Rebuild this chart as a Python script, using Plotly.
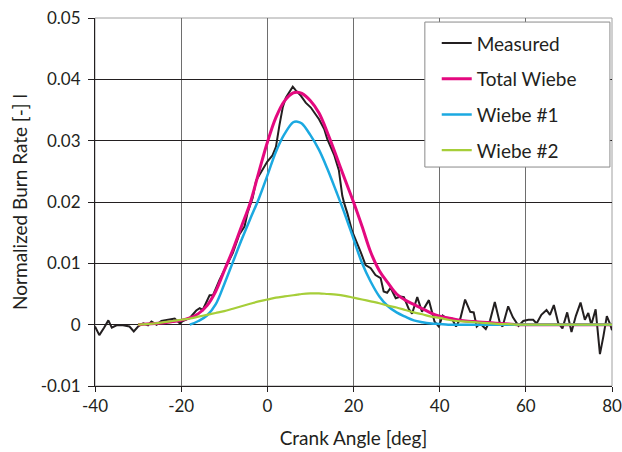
import plotly.graph_objects as go

# ---- data ----
meas_x = [-40, -39, -37.9, -36.9, -36.1, -35, -33.5, -32, -31, -30, -28.8, -27.7, -26.9, -25.7, -24.6,
          -22.7, -21.5, -20.3, -19.6, -18, -16.5, -15.7, -15, -13.4, -12.6, -11.1, -9.5, -8, -6.5, -5.3,
          -4.6, -3.4, -2.6, -1.2, 0, 1.2, 2, 2.8, 3.6, 4.3, 5.9, 6.6, 7.8, 8.9, 10.1, 10.9, 12, 13.2,
          13.9, 14.7, 15.5, 16.6, 17.4, 17.8, 18.6, 19.7, 20.5, 21.7, 22.8, 24, 25.1, 26.3, 27, 27.8,
          28.6, 29.8, 30.9, 31.7, 32.8, 33.6, 34.8, 35.9, 37.5, 38.8, 39.8, 40.7, 41.7, 42.8, 43.8,
          44.8, 45.9, 47.1, 47.9, 48.6, 49.4, 50.7, 51.7, 52.8, 54, 54.6, 55.9, 57, 58.3, 59.4, 60.6,
          61.7, 62.5, 63.6, 64.8, 65.6, 66.5, 67.5, 68.5, 69.6, 70.6, 71.6, 72.7, 73.7, 74.5, 75.2,
          76.2, 77.2, 78, 78.8, 79.6, 80]
meas_y = [-0.0003, -0.0017, -0.0005, 0.0007, -0.0005, -0.0001, -0.0001, -0.0003, -0.0011, -0.0003,
          0.0002, -0.0001, 0.0005, 0.0, 0.0006, 0.0008, 0.0010, 0.0002, 0.0006, 0.0011, 0.0023, 0.0027,
          0.0024, 0.0048, 0.0048, 0.0073, 0.0095, 0.0117, 0.0147, 0.0160, 0.0182, 0.0207, 0.0235,
          0.0252, 0.0266, 0.0276, 0.0290, 0.0325, 0.0355, 0.0370, 0.0388, 0.0382, 0.0373, 0.0362,
          0.0354, 0.0346, 0.0335, 0.0319, 0.0303, 0.0290, 0.0277, 0.0252, 0.0210, 0.0199, 0.0181,
          0.0152, 0.0139, 0.0118, 0.0097, 0.0092, 0.0081, 0.0076, 0.0054, 0.0052, 0.0060, 0.0043,
          0.0046, 0.0045, 0.0026, 0.0018, 0.0045, 0.0021, 0.0040, 0.0005, -0.0003, 0.0015, 0.0010,
          0.0010, -0.0003, 0.0010, 0.0041, 0.0021, 0.0020, -0.0003, 0.0002, -0.0007, 0.0007, 0.0037,
          0.0002, -0.0003, 0.0030, 0.0012, -0.0002, 0.0006, 0.0008, 0.0008, 0.0002, 0.0016, 0.0024,
          0.0016, 0.0032, 0.0003, -0.0006, 0.0020, -0.0012, 0.0014, 0.0036, 0.0008, 0.0019, 0.0,
          0.0025, -0.0048, -0.0019, 0.0014, 0.0, -0.0009]

wiebe_x = [-30, -28, -26, -24, -22, -20, -18, -16, -14, -12, -10, -8, -6, -4, -2, 0, 2, 4, 6, 7, 8,
           10, 12, 14, 16, 18, 20, 22, 24, 26, 28, 30, 32, 34, 36, 38, 40, 42, 44, 46, 48, 50, 52,
           54, 56, 58, 60, 65, 70, 75, 80]
total_y = [0.0, 0.0001, 0.0002, 0.0003, 0.0005, 0.0007, 0.0011, 0.0018, 0.0031, 0.0054, 0.0088,
           0.0122, 0.0160, 0.0198, 0.0248, 0.0297, 0.0338, 0.0365, 0.0378, 0.0379, 0.0377, 0.0365,
           0.0345, 0.0312, 0.0275, 0.0237, 0.0200, 0.0160, 0.0118, 0.0088, 0.0068, 0.0050, 0.0040,
           0.0033, 0.0026, 0.0019, 0.0014, 0.0011, 0.0008, 0.0006, 0.0005, 0.0004, 0.0003, 0.0002,
           0.0001, 0.0, 0.0, 0.0, 0.0, 0.0, 0.0]
w1_y = [None, None, None, None, None, None, 0.0, 0.0006, 0.0015, 0.0033, 0.0066, 0.0102, 0.0138,
        0.0172, 0.0205, 0.0243, 0.0282, 0.0311, 0.0330, 0.0331, 0.0328, 0.0309, 0.0285, 0.0253,
        0.0217, 0.0180, 0.0140, 0.0100, 0.0070, 0.0046, 0.0030, 0.0020, 0.0013, 0.0007, 0.0004,
        0.0002, 0.0001, 0.0, 0.0, 0.0, 0.0, 0.0, 0.0, 0.0, 0.0, 0.0, 0.0, 0.0, 0.0, 0.0, 0.0]
w2_y = [0.0, 0.0001, 0.0002, 0.0004, 0.0006, 0.0008, 0.0010, 0.0013, 0.0016, 0.0019, 0.0022, 0.0026,
        0.0030, 0.0034, 0.0038, 0.0041, 0.0044, 0.0046, 0.0048, 0.0049, 0.0050, 0.0051, 0.0051,
        0.0050, 0.0049, 0.0047, 0.0044, 0.0041, 0.0038, 0.0035, 0.0031, 0.0028, 0.0024, 0.0020,
        0.0017, 0.0013, 0.0011, 0.0008, 0.0006, 0.0005, 0.0004, 0.0003, 0.0002, 0.0001, 0.0001,
        0.0, 0.0, 0.0, 0.0, 0.0, 0.0]

x_ticks = [-40, -20, 0, 20, 40, 60, 80]
x_ticktext = ["-40", "-20", "0", "20", "40", "60", "80"]
y_ticks = [-0.01, 0, 0.01, 0.02, 0.03, 0.04, 0.05]
y_ticktext = ["-0.01", "0", "0.01", "0.02", "0.03", "0.04", "0.05"]

FONT = "Lato"
TXT = "#231f20"

fig = go.Figure()
fig.add_trace(go.Scatter(x=meas_x, y=meas_y, mode="lines", name="Measured", legendgroup="a",
                         line=dict(color="#231f20", width=2)))
fig.add_trace(go.Scatter(x=wiebe_x, y=total_y, mode="lines", name="Total Wiebe", legendgroup="b",
                         line=dict(color="#e4097f", width=3, shape="spline")))
fig.add_trace(go.Scatter(x=wiebe_x, y=w1_y, mode="lines", name="Wiebe #1", legendgroup="c",
                         line=dict(color="#1ba9e1", width=2.5, shape="spline")))
fig.add_trace(go.Scatter(x=wiebe_x, y=w2_y, mode="lines", name="Wiebe #2", legendgroup="d",
                         line=dict(color="#a6ce39", width=2.2, shape="spline")))

# plot frame (light grey top/right edges)
fig.add_shape(type="rect", xref="paper", yref="paper", x0=0, y0=0, x1=1, y1=1,
              line=dict(color="#a0a0a0", width=1), layer="below")
# legend box
fig.add_shape(type="rect", xref="paper", yref="paper", x0=0.638, y0=0.595, x1=0.996, y1=0.989,
              line=dict(color="#8a8a8a", width=1), fillcolor="white", layer="above")

fig.update_layout(
    width=622, height=452,
    margin=dict(l=95, r=10, t=18, b=66, autoexpand=False),
    paper_bgcolor="white", plot_bgcolor="white",
    font=dict(family=FONT, size=17, color=TXT),
    showlegend=True,
    legend=dict(x=0.661, y=0.983, xanchor="left", yanchor="top",
                bgcolor="rgba(0,0,0,0)", borderwidth=0,
                font=dict(family=FONT, size=19, color=TXT),
                tracegroupgap=8, itemwidth=30),
    xaxis=dict(range=[-40, 80], tickvals=x_ticks, ticktext=x_ticktext,
               showgrid=True, gridcolor="#6e6e6e", gridwidth=1,
               showline=True, linecolor="#231f20", linewidth=1,
               ticks="outside", ticklen=5, tickcolor="#231f20",
               zeroline=False, ticklabeloverflow="allow", automargin=False,
               title=dict(text="Crank Angle [deg]", font=dict(size=19), standoff=16)),
    yaxis=dict(range=[-0.01, 0.05], tickvals=y_ticks, ticktext=y_ticktext,
               showgrid=True, gridcolor="#231f20", gridwidth=1,
               showline=True, linecolor="#231f20", linewidth=1,
               ticks="outside", ticklen=6, tickcolor="#231f20",
               zeroline=False, ticklabelstandoff=4, automargin=False,
               title=dict(text="Normalized Burn Rate [-] l", font=dict(size=19), standoff=8)),
)

fig.write_html("out.html")
